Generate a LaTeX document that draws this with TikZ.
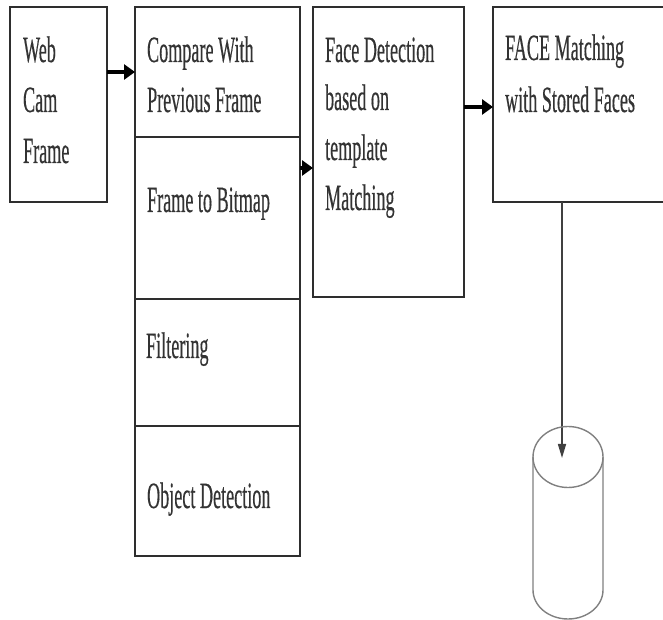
\documentclass[tikz,border=0pt]{standalone}
\usepackage{fontspec}
\setmainfont{Liberation Serif}
\newfontfamily\lblfont[FakeBold=0.6]{Liberation Serif}
\usetikzlibrary{arrows.meta}
\begin{document}
\begin{tikzpicture}[x=1pt,y=1pt,
  box/.style={draw=black!82, line width=2.6pt, minimum width=#1, inner sep=0pt, outer sep=0pt},
  txt/.style={anchor=base west, inner sep=0pt, xscale=0.49, text=black!80,
              font=\lblfont\fontsize{37}{49}\selectfont},
  flow/.style={draw=black, line width=3.2pt, -{Triangle[length=11pt,width=15pt]}},
  store/.style={draw=black!75, line width=1.6pt, -{Triangle[length=14pt,width=8pt]}},
  drum/.style={draw=black!50, line width=1.4pt}]
\useasboundingbox (0,0) rectangle (663,620);

% input frame
\node[box=97pt, minimum height=195pt] (web) at (58.5,515.5) {};
% preprocessing column
\node[box=165pt, minimum height=130pt] (cmp) at (217.5,548) {};
\node[box=165pt, minimum height=162pt] (bmp) at (217.5,402) {};
\node[box=165pt, minimum height=127pt] (flt) at (217.5,257.5) {};
\node[box=165pt, minimum height=130pt] (obj) at (217.5,129) {};
% face detection
\node[box=151pt, minimum height=290pt] (det) at (388.5,468) {};
% face matching (runs past the right edge)
\node[box=177pt, minimum height=195pt] (match) at (581.5,515.5) {};

% labels
\node[txt] (w1) at (23,558) {Web};
\node[txt] (w2) at (23,508) {Cam};
\node[txt] (w3) at (23,457) {Frame};
\node[txt] (c1) at (147,558) {Compare With};
\node[txt] (c2) at (147,508) {Previous Frame};
\node[txt] (b1) at (147,408) {Frame to Bitmap};
\node[txt] (f1) at (146,262) {Filtering};
\node[txt] (o1) at (147,112) {Object Detection};
\node[txt] (d1) at (325,558) {Face Detection};
\node[txt] (d2) at (325,510) {based on};
\node[txt] (d3) at (325,460) {template};
\node[txt] (d4) at (325,410) {Matching};
\node[txt] (m1) at (505,560) {FACE Matching};
\node[txt] (m2) at (505,508) {with Stored Faces};

% connector heights
\coordinate (a2) at (306,452);
\coordinate (a3) at (478,513);
\coordinate (a4) at (562,162);

\draw[flow] (web.east |- cmp.west) -- (cmp.west);
\draw[flow] (bmp.east |- a2) -- (det.west |- a2);
\draw[flow] (det.east |- a3) -- (match.west |- a3);
\draw[store] (match.south -| a4) -- (a4);

% database cylinder
\draw[drum] (568,163) ellipse [x radius=35, y radius=30.5];
\draw[drum] (533,163) -- (533,30) arc [start angle=180, end angle=360, x radius=35, y radius=29] -- (603,163);
\end{tikzpicture}
\end{document}
